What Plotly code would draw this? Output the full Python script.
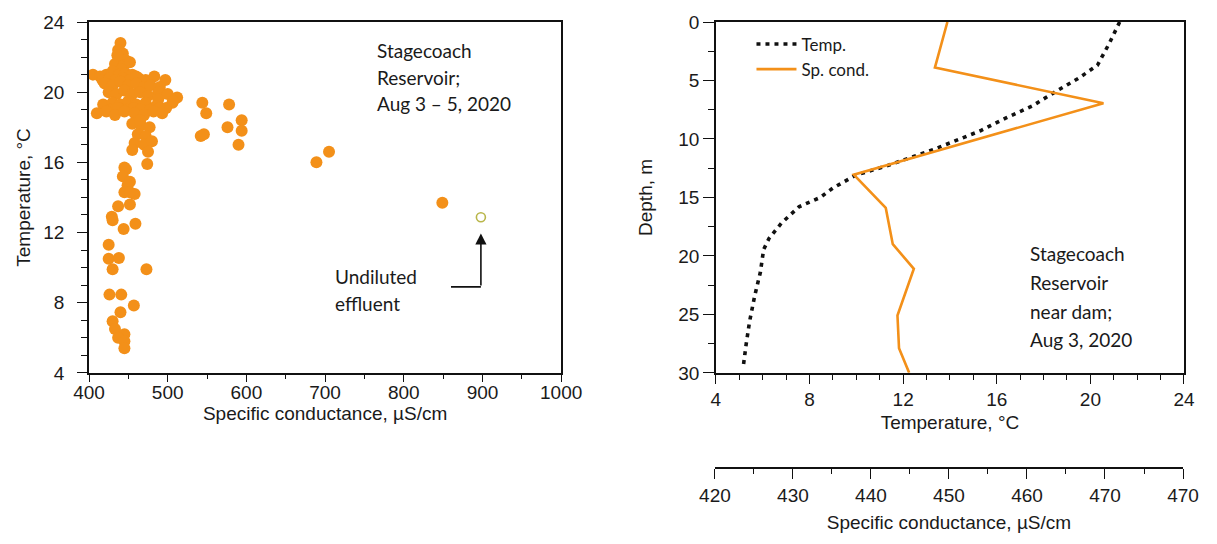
import plotly.graph_objects as go

# ---------------- data ----------------
# Left: specific conductance (uS/cm) vs temperature (deg C), reservoir samples
cond_pts = [
    440, 437, 443, 438, 447, 433, 444, 452, 441, 436,
    405, 414, 422, 430, 438, 446, 455, 463, 472,
    417, 426, 434, 443, 452, 460, 470, 483, 497, 490,
    420, 430, 440, 450, 460, 470, 478, 488,
    425, 435, 445, 455, 465, 475, 488, 500, 512, 506,
    418, 430, 440, 450, 460, 472, 485, 498, 507,
    427, 437, 448, 457, 466, 478, 490,
    410, 422, 433, 445, 458, 470, 482, 493,
    455, 466, 477, 462, 472, 458, 470, 480, 455, 475, 465,
    544, 549, 542, 546, 578, 576, 594, 594, 590, 689, 705, 849,
    445, 474, 447, 443, 452, 449, 445, 458, 452, 437, 452, 429, 430, 459, 444,
    425, 425, 438, 430, 473, 426, 441, 457, 440, 430, 433, 445, 437, 445, 445,
]
temp_pts = [
    22.8, 22.4, 22.2, 21.9, 21.8, 21.6, 21.5, 21.7, 21.3, 22.1,
    21.0, 20.9, 21.0, 21.2, 21.0, 21.1, 21.0, 20.8, 20.7,
    20.7, 20.8, 20.7, 20.8, 20.7, 20.9, 20.6, 20.9, 20.7, 20.3,
    20.5, 20.4, 20.6, 20.4, 20.5, 20.3, 20.4, 20.0,
    20.0, 19.9, 20.1, 19.9, 20.0, 19.8, 19.6, 19.9, 19.7, 19.4,
    19.3, 19.4, 19.3, 19.5, 19.3, 19.4, 19.2, 19.1, 19.5,
    19.0, 19.1, 19.0, 19.1, 19.0, 19.0, 19.1,
    18.8, 18.9, 18.7, 18.9, 18.8, 18.7, 18.9, 18.8,
    18.2, 18.1, 18.0, 17.6, 17.5, 17.1, 17.0, 17.2, 16.7, 16.6, 18.4,
    19.4, 18.8, 17.5, 17.6, 19.3, 18.0, 18.4, 17.8, 17.0, 16.0, 16.6, 13.7,
    15.7, 15.9, 15.6, 15.2, 14.9, 14.7, 14.3, 14.2, 14.3, 13.5, 13.6, 12.9, 12.7, 12.5, 12.2,
    11.3, 10.5, 10.55, 9.9, 9.9, 8.46, 8.46, 7.84, 7.45, 6.94, 6.5, 6.2, 6.0, 5.8, 5.4,
]
effluent_cond = [898]
effluent_temp = [12.87]

# Right: profile near dam
depth_temp = [0, 1.86, 3.7, 4.8, 5.85, 7.2, 8.2, 9.3, 10.9, 12.3, 13.1, 14.2, 15.0, 15.8,
              17.2, 18.5, 19.45, 21.4, 23.4, 25.6, 27.6, 29.3]
temp_profile = [21.25, 20.8, 20.3, 19.5, 18.6, 17.5, 16.4, 15.3, 13.3, 11.3, 9.97, 9.0, 8.46, 7.55,
                6.8, 6.27, 6.04, 5.9, 5.66, 5.44, 5.29, 5.18]
depth_cond = [0, 3.9, 6.95, 13.05, 15.9, 19.0, 21.1, 25.1, 27.9, 30.0]
cond_profile = [449.8, 448.2, 469.8, 437.8, 441.9, 442.8, 445.5, 443.4, 443.6, 444.9]

cond_axis_ticks = [420, 430, 440, 450, 460, 470, 480]
cond_axis_labels = ["420", "430", "440", "450", "460", "470", "470"]

left_note_lines = ["Stagecoach", "Reservoir;", "Aug 3 – 5, 2020"]
effluent_note_lines = ["Undiluted", "effluent"]
right_note_lines = ["Stagecoach", "Reservoir", "near dam;", "Aug 3, 2020"]

# ---------------- style ----------------
ORANGE = "#F39019"
TICKFONT = dict(family="Liberation Sans, Arial, sans-serif", size=19, color="#1a1a1a")
TITLEFONT = dict(family="Liberation Sans, Arial, sans-serif", size=19, color="#1a1a1a")
NOTEFONT = dict(family="Lato, Noto Sans, sans-serif", size=19, color="#1a1a1a")

fig = go.Figure()

fig.add_trace(go.Scatter(
    x=cond_pts, y=temp_pts, mode="markers", xaxis="x", yaxis="y",
    marker=dict(size=12, color=ORANGE, line=dict(width=0)),
    cliponaxis=False, showlegend=False, hoverinfo="x+y"))
fig.add_trace(go.Scatter(
    x=effluent_cond, y=effluent_temp, mode="markers", xaxis="x", yaxis="y",
    marker=dict(size=9, symbol="circle-open", color="#B9B64A", line=dict(width=1.6)),
    showlegend=False))

fig.add_trace(go.Scatter(
    x=temp_profile, y=depth_temp, mode="lines", xaxis="x2", yaxis="y2",
    name="Temp.", line=dict(color="#111111", width=3.6, dash="4px,5px")))
fig.add_trace(go.Scatter(
    x=cond_profile, y=depth_cond, mode="lines", xaxis="x3", yaxis="y2",
    name="Sp. cond.", line=dict(color=ORANGE, width=2.6)))

common = dict(showgrid=False, zeroline=False, showline=True, linecolor="#111111",
              linewidth=1.6, ticks="outside", tickcolor="#111111", tickwidth=1.4,
              tickfont=TICKFONT, mirror=True)


def minor(dt, ln):
    return dict(dtick=dt, ticks="outside", ticklen=ln, tickcolor="#111111",
                tickwidth=1.2, showgrid=False)


DOM_Y = [0.2133, 1.0]
fig.update_layout(
    width=1217, height=544,
    margin=dict(l=89, r=24, t=18, b=76),
    paper_bgcolor="white", plot_bgcolor="rgba(0,0,0,0)",
    xaxis=dict(domain=[0, 0.4312], range=[400, 1000], anchor="y", dtick=100,
               ticklen=7, ticklabelstandoff=-5, minor=minor(50, 4),
               title=dict(text="Specific conductance, µS/cm", font=TITLEFONT, standoff=2),
               **common),
    yaxis=dict(domain=DOM_Y, range=[4, 24], anchor="x", dtick=4,
               ticklen=10, ticklabelstandoff=9, minor=minor(1, 6),
               title=dict(text="Temperature, °C", font=TITLEFONT, standoff=8),
               **common),
    xaxis2=dict(domain=[0.5725, 1.0], range=[4, 24], anchor="y2", dtick=4,
                ticklen=9, minor=minor(1, 5),
                title=dict(text="Temperature, °C", font=TITLEFONT, standoff=6),
                **common),
    yaxis2=dict(domain=DOM_Y, range=[30, 0], anchor="x2", dtick=5,
                ticklen=11, minor=minor(2.5, 6),
                title=dict(text="Depth, m", font=TITLEFONT, standoff=20),
                **common),
    xaxis3=dict(domain=[0.5716, 0.9991], range=[420, 480], anchor="free", position=0,
                tickvals=cond_axis_ticks, ticktext=cond_axis_labels,
                ticklen=10, minor=minor(5, 5),
                title=dict(text="Specific conductance, µS/cm", font=TITLEFONT, standoff=10),
                showgrid=False, zeroline=False, showline=True, linecolor="#111111",
                linewidth=1.6, ticks="outside", tickcolor="#111111", tickwidth=1.4,
                tickfont=TICKFONT),
    legend=dict(x=0.605, y=0.99, xanchor="left", yanchor="top",
                bgcolor="rgba(0,0,0,0)",
                font=dict(family="Lato, Noto Sans, sans-serif", size=17, color="#1a1a1a"),
                tracegroupgap=0, itemwidth=40),
    showlegend=True,
)

for i, line in enumerate(left_note_lines):
    fig.add_annotation(x=763, y=22.36 - 1.5 * i, xref="x", yref="y",
                       xanchor="left", yanchor="middle", align="left", showarrow=False,
                       text=line, font=NOTEFONT)
for i, line in enumerate(effluent_note_lines):
    fig.add_annotation(x=710, y=9.48 - 1.53 * i, xref="x", yref="y",
                       xanchor="left", yanchor="middle", align="left", showarrow=False,
                       text=line, font=NOTEFONT)
for i, line in enumerate(right_note_lines):
    fig.add_annotation(x=17.35, y=19.8 + 2.46 * i, xref="x2", yref="y2",
                       xanchor="left", yanchor="middle", align="left", showarrow=False,
                       text=line, font=NOTEFONT)

# L-shaped pointer to the undiluted effluent sample
fig.add_shape(type="line", xref="x", yref="y", x0=860, y0=8.9, x1=898, y1=8.9,
              line=dict(color="#111111", width=1.6))
fig.add_annotation(x=898, y=11.95, xref="x", yref="y", ax=898, ay=8.9, axref="x", ayref="y",
                   showarrow=True, arrowhead=2, arrowsize=1.4, arrowwidth=1.6,
                   arrowcolor="#111111", text="")

fig.write_html("out.html")
